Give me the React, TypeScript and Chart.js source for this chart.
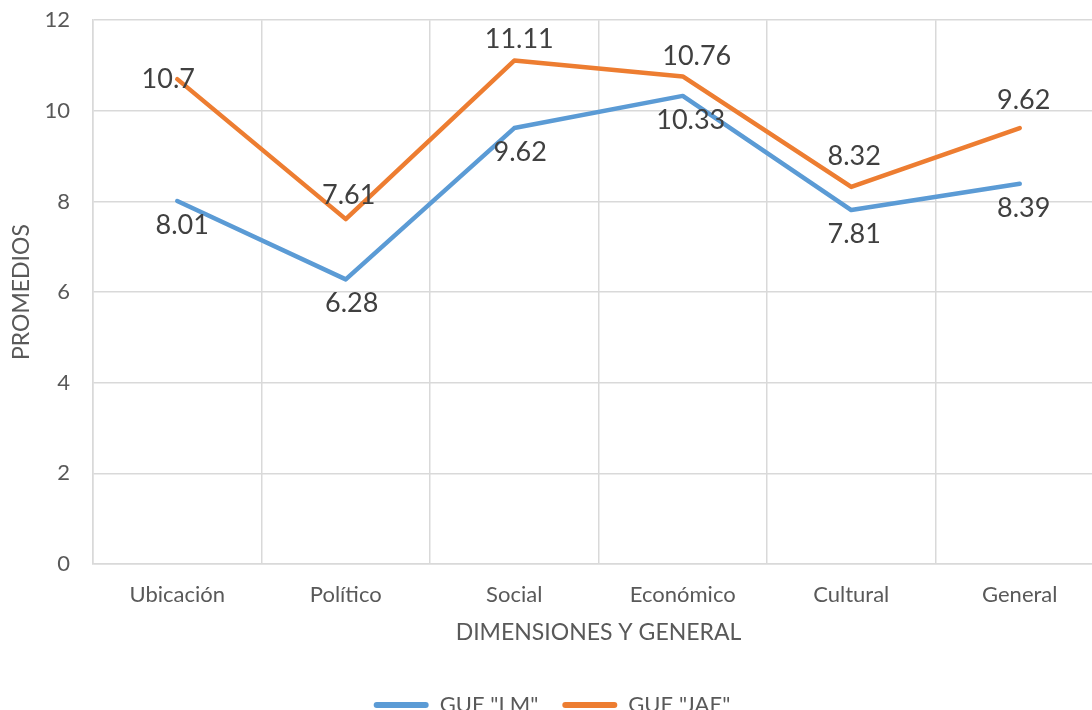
import React, { useEffect, useRef } from "react";
import { Chart, registerables } from "chart.js";

Chart.register(...registerables);

const categories = ["Ubicación", "Político", "Social", "Económico", "Cultural", "General"];
const seriesNames = ['GUE "LM"', 'GUE "JAE"'];
const lmValues = [8.01, 6.28, 9.62, 10.33, 7.81, 8.39];
const jaeValues = [10.7, 7.61, 11.11, 10.76, 8.32, 9.62];
const yTicks = { min: 0, max: 12, step: 2 };

// label nudges (layout only)
const lmLabelOffsets = [[5, 24], [6, 24], [6, 24], [8, 24], [3, 24], [4, 25]];
const jaeLabelOffsets = [[-9, 0], [3, -24], [5, -21], [14, -20], [3, -31], [4, -28]];

const FONT = "Lato";
const TEXT = "#595959";
const GRID = "#d9d9d9";
const BLUE = "#5b9bd5";
const ORANGE = "#ed7d31";

const labelPlugin = {
  id: "valueLabels",
  afterDatasetsDraw(chart: any) {
    const ctx = chart.ctx;
    ctx.save();
    ctx.font = `27px ${FONT}`;
    ctx.fillStyle = "#404040";
    ctx.textAlign = "center";
    ctx.textBaseline = "middle";
    chart.data.datasets.forEach((ds: any, di: number) => {
      const meta = chart.getDatasetMeta(di);
      const offs = di === 0 ? lmLabelOffsets : jaeLabelOffsets;
      meta.data.forEach((pt: any, i: number) => {
        const [dx, dy] = offs[i];
        ctx.fillText(String(ds.data[i]), pt.x + dx, pt.y + dy);
      });
    });
    ctx.restore();
  },
};

export default function App() {
  const ref = useRef<HTMLCanvasElement>(null);
  useEffect(() => {
    document.body.style.overflow = "hidden";
    const chart = new Chart(ref.current!, {
      type: "line",
      data: {
        labels: categories,
        datasets: [
          {
            label: seriesNames[0],
            data: lmValues,
            borderColor: BLUE,
            backgroundColor: BLUE,
            borderWidth: 4.5,
            pointRadius: 0,
            tension: 0,
            borderCapStyle: "round",
            borderJoinStyle: "round",
          },
          {
            label: seriesNames[1],
            data: jaeValues,
            borderColor: ORANGE,
            backgroundColor: ORANGE,
            borderWidth: 4.5,
            pointRadius: 0,
            tension: 0,
            borderCapStyle: "round",
            borderJoinStyle: "round",
          },
        ],
      },
      options: {
        animation: false,
        responsive: false,
        layout: { padding: { top: 6, left: 0, right: 16, bottom: 0 } },
        plugins: {
          tooltip: { enabled: false },
          legend: {
            position: "bottom",
            labels: {
              font: { family: FONT, size: 22 },
              color: TEXT,
              boxWidth: 55,
              boxHeight: 6,
              padding: 24,
              useBorderRadius: true,
              borderRadius: 3,
              generateLabels(chart: any) {
                const items = Chart.defaults.plugins.legend.labels.generateLabels(chart);
                return items.map((it: any) => ({ ...it, lineWidth: 0 }));
              },
            },
          },
        },
        scales: {
          x: {
            offset: true,
            grid: { color: GRID, lineWidth: 1.5, drawTicks: false, offset: true },
            border: { color: GRID, width: 1.5 },
            ticks: { font: { family: FONT, size: 22 }, color: TEXT, padding: 18 },
            title: {
              display: true,
              text: "DIMENSIONES Y GENERAL",
              font: { family: FONT, size: 23 },
              color: TEXT,
              padding: { top: 4, bottom: 24 },
            },
            afterFit(scale: any) {
              scale.height = 106;
            },
          },
          y: {
            min: yTicks.min,
            max: yTicks.max,
            ticks: { stepSize: yTicks.step, font: { family: FONT, size: 22 }, color: TEXT, padding: 7 },
            grid: { color: GRID, lineWidth: 1.5, drawTicks: true, tickLength: 16, tickColor: "rgba(0,0,0,0)" },
            border: { color: GRID, width: 1.5 },
            title: {
              display: true,
              text: "PROMEDIOS",
              font: { family: FONT, size: 23 },
              color: TEXT,
              padding: { top: 8, bottom: 0 },
            },
            afterFit(scale: any) {
              scale.width = 93;
            },
          },
        },
      },
      plugins: [labelPlugin],
    } as any);
    return () => chart.destroy();
  }, []);
  return (
    <div style={{ position: "fixed", left: 0, top: 0, width: 1092, height: 710, overflow: "hidden", background: "#fff" }}>
      <canvas ref={ref} width={1120} height={726} style={{ display: "block" }} />
    </div>
  );
}
